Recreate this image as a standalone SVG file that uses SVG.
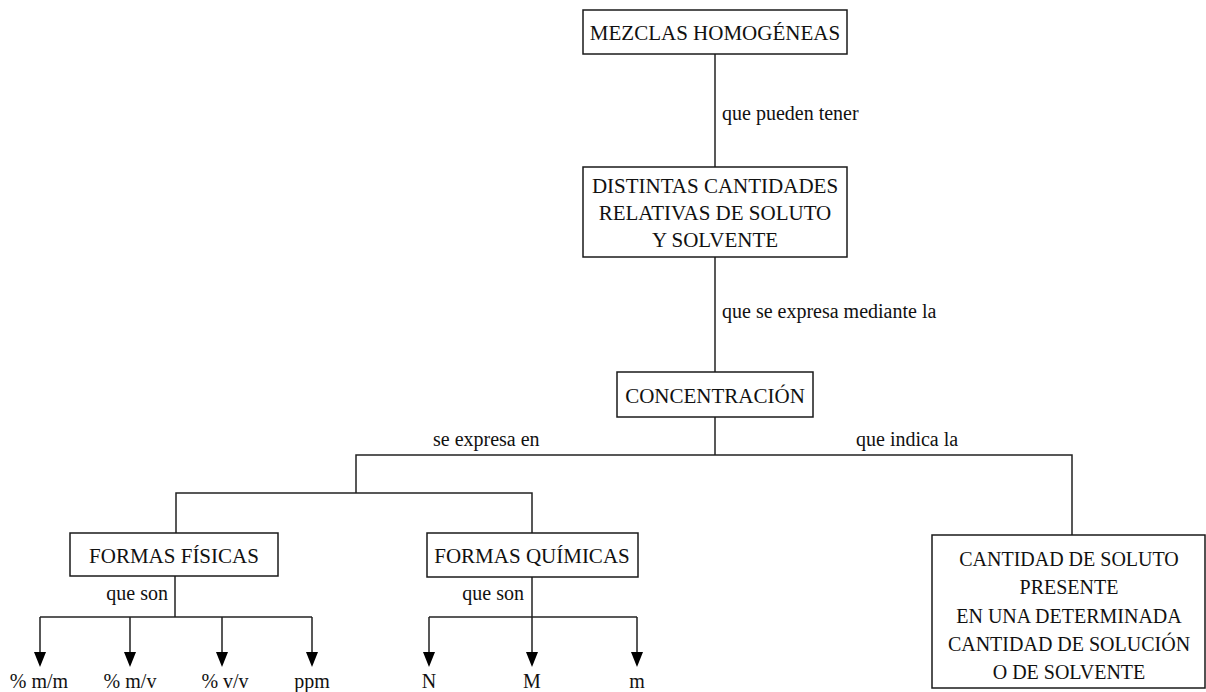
<svg xmlns="http://www.w3.org/2000/svg" width="1206" height="692" viewBox="0 0 1206 692">
  <style>
    .box { fill: #ffffff; stroke: #1a1a1a; stroke-width: 1.5; }
    text { font-family: "Liberation Serif", "Times New Roman", "DejaVu Serif", serif; fill: #111; }
    .node { font-size: 21px; text-anchor: middle; }
    .lbl { font-size: 20px; }
    .leaf { font-size: 20px; text-anchor: middle; }
    .wire { fill: none; stroke: #222; stroke-width: 1.5; }
    .head { fill: #000; }
  </style>
  <defs>
    <path id="arrowhead" class="head" d="M-6,-15 L6,-15 L0,0 Z"/>
  </defs>
  <rect width="1206" height="692" fill="#ffffff"/>

  <!-- connectors -->
  <g id="connectors">
    <line class="wire" x1="715" y1="54" x2="715" y2="167"/>
    <line class="wire" x1="715" y1="257" x2="715" y2="372"/>
    <line class="wire" x1="715" y1="417" x2="715" y2="455"/>
    <polyline class="wire" points="356,493 356,455 1072,455 1072,535"/>
    <polyline class="wire" points="176,533 176,493 532,493 532,533"/>
    <!-- physical forms -->
    <line class="wire" x1="175" y1="576" x2="175" y2="617"/>
    <line class="wire" x1="40" y1="617" x2="312" y2="617"/>
    <path class="wire" d="M40,617 V653 M130,617 V653 M222,617 V653 M312,617 V653"/>
    <!-- chemical forms -->
    <line class="wire" x1="532" y1="577" x2="532" y2="617"/>
    <line class="wire" x1="429" y1="617" x2="637" y2="617"/>
    <path class="wire" d="M429,617 V653 M532,617 V653 M637,617 V653"/>
    <use href="#arrowhead" x="40" y="667"/>
    <use href="#arrowhead" x="130" y="667"/>
    <use href="#arrowhead" x="222" y="667"/>
    <use href="#arrowhead" x="312" y="667"/>
    <use href="#arrowhead" x="429" y="667"/>
    <use href="#arrowhead" x="532" y="667"/>
    <use href="#arrowhead" x="637" y="667"/>
    <text class="lbl" x="722" y="120">que pueden tener</text>
    <text class="lbl" x="722" y="318">que se expresa mediante la</text>
    <text class="lbl" x="433" y="446">se expresa en</text>
    <text class="lbl" x="856" y="446">que indica la</text>
    <text class="lbl" x="168" y="600" text-anchor="end">que son</text>
    <text class="lbl" x="524" y="600" text-anchor="end">que son</text>
  </g>

  <g id="mezclas">
    <rect class="box" x="583" y="10" width="264" height="44"/>
    <text class="node" x="715" y="40">MEZCLAS HOMOGÉNEAS</text>
  </g>

  <g id="distintas">
    <rect class="box" x="583" y="167" width="264" height="90"/>
    <text class="node" x="715" y="193">DISTINTAS CANTIDADES</text>
    <text class="node" x="715" y="220">RELATIVAS DE SOLUTO</text>
    <text class="node" x="715" y="247">Y SOLVENTE</text>
  </g>

  <g id="concentracion">
    <rect class="box" x="617" y="372" width="196" height="45"/>
    <text class="node" x="715" y="403">CONCENTRACIÓN</text>
  </g>

  <g id="formas-fisicas">
    <rect class="box" x="70" y="533" width="208" height="43"/>
    <text class="node" x="174" y="563">FORMAS FÍSICAS</text>
  </g>

  <g id="formas-quimicas">
    <rect class="box" x="427" y="533" width="211" height="44"/>
    <text class="node" x="532" y="563">FORMAS QUÍMICAS</text>
  </g>

  <g id="cantidad-soluto">
    <rect class="box" x="932" y="535" width="273" height="153"/>
    <text class="lbl" text-anchor="middle" x="1069" y="566">CANTIDAD DE SOLUTO</text>
    <text class="lbl" text-anchor="middle" x="1069" y="594">PRESENTE</text>
    <text class="lbl" text-anchor="middle" x="1069" y="623">EN UNA DETERMINADA</text>
    <text class="lbl" text-anchor="middle" x="1069" y="651">CANTIDAD DE SOLUCIÓN</text>
    <text class="lbl" text-anchor="middle" x="1069" y="679">O DE SOLVENTE</text>
  </g>

  <g id="leaf-mm"><text class="leaf" x="39" y="688">% m/m</text></g>
  <g id="leaf-mv"><text class="leaf" x="130" y="688">% m/v</text></g>
  <g id="leaf-vv"><text class="leaf" x="225" y="688">% v/v</text></g>
  <g id="leaf-ppm"><text class="leaf" x="312" y="688">ppm</text></g>
  <g id="leaf-N"><text class="leaf" x="429" y="688">N</text></g>
  <g id="leaf-M"><text class="leaf" x="532" y="688">M</text></g>
  <g id="leaf-m"><text class="leaf" x="637" y="688">m</text></g>
</svg>
